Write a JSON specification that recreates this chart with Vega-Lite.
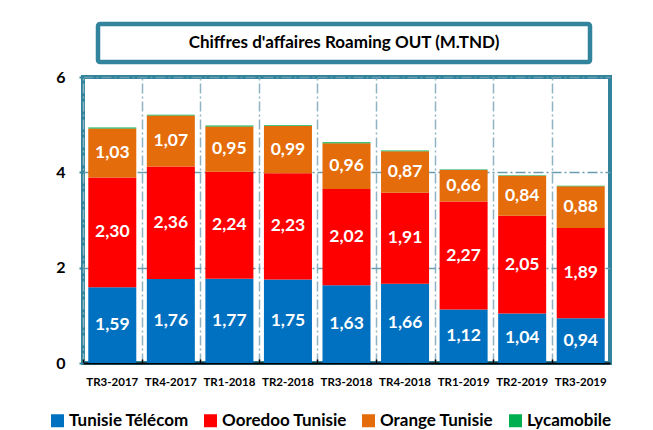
{
  "$schema": "https://vega.github.io/schema/vega-lite/v6.json",
  "padding": {"left": 49, "top": 21, "right": 5, "bottom": 0},
  "background": "white",
  "config": {
    "locale": {"number": {"decimal": ",", "thousands": " ", "grouping": [3], "currency": ["", ""]}},
    "font": "Lato",
    "view": {"stroke": null}
  },
  "spacing": 2,
  "vconcat": [
    {
      "spacing": 0,
      "hconcat": [
        {"width": 12, "height": 38, "data": {"values": [{}]}, "mark": {"type": "text", "text": ""}},
        {
          "width": 492, "height": 38,
          "view": {"stroke": "#31849B", "strokeWidth": 4.5, "cornerRadius": 2},
          "data": {"values": [{"t": "Chiffres d'affaires Roaming OUT (M.TND)"}]},
          "mark": {"type": "text", "fontSize": 17, "fontWeight": "bold", "color": "black"},
          "encoding": {"text": {"field": "t"}}
        }
      ]
    },
    {
      "width": 527, "height": 286,
      "view": {"stroke": "#31849B", "strokeWidth": 4},
      "data": {"values": [
        {"q": "TR3-2017", "Tunisie Télécom": 1.59, "Ooredoo Tunisie": 2.30, "Orange Tunisie": 1.03, "Lycamobile": 0.02},
        {"q": "TR4-2017", "Tunisie Télécom": 1.76, "Ooredoo Tunisie": 2.36, "Orange Tunisie": 1.07, "Lycamobile": 0.02},
        {"q": "TR1-2018", "Tunisie Télécom": 1.77, "Ooredoo Tunisie": 2.24, "Orange Tunisie": 0.95, "Lycamobile": 0.02},
        {"q": "TR2-2018", "Tunisie Télécom": 1.75, "Ooredoo Tunisie": 2.23, "Orange Tunisie": 0.99, "Lycamobile": 0.02},
        {"q": "TR3-2018", "Tunisie Télécom": 1.63, "Ooredoo Tunisie": 2.02, "Orange Tunisie": 0.96, "Lycamobile": 0.02},
        {"q": "TR4-2018", "Tunisie Télécom": 1.66, "Ooredoo Tunisie": 1.91, "Orange Tunisie": 0.87, "Lycamobile": 0.02},
        {"q": "TR1-2019", "Tunisie Télécom": 1.12, "Ooredoo Tunisie": 2.27, "Orange Tunisie": 0.66, "Lycamobile": 0.01},
        {"q": "TR2-2019", "Tunisie Télécom": 1.04, "Ooredoo Tunisie": 2.05, "Orange Tunisie": 0.84, "Lycamobile": 0.01},
        {"q": "TR3-2019", "Tunisie Télécom": 0.94, "Ooredoo Tunisie": 1.89, "Orange Tunisie": 0.88, "Lycamobile": 0.01}
      ]},
      "transform": [
        {"fold": ["Tunisie Télécom", "Ooredoo Tunisie", "Orange Tunisie", "Lycamobile"], "as": ["op", "v"]},
        {"calculate": "indexof(['Tunisie Télécom','Ooredoo Tunisie','Orange Tunisie','Lycamobile'], datum.op)", "as": "k"},
        {"stack": "v", "groupby": ["q"], "sort": [{"field": "k", "order": "ascending"}], "as": ["v0", "v1"]},
        {"calculate": "(datum.v0 + datum.v1) / 2", "as": "vm"}
      ],
      "layer": [
        {
          "mark": {"type": "bar"},
          "encoding": {
            "x": {"field": "q", "type": "ordinal", "sort": null,
              "scale": {"paddingInner": 0.18, "paddingOuter": 0.09},
              "axis": {"title": null, "labelAngle": 0, "labelFontSize": 11.5, "labelFontWeight": "bold", "labelColor": "black",
                "labelPadding": 13, "ticks": false, "grid": false, "domain": true, "domainColor": "black", "domainWidth": 2}},
            "y": {"field": "v0", "type": "quantitative", "scale": {"domain": [0, 6], "nice": false},
              "axis": {"title": null, "values": [0, 2, 4, 6], "grid": true, "gridDash": [10, 3, 2, 3], "gridColor": "#6A9BAE", "gridWidth": 1.5,
                "domain": false, "ticks": true, "tickColor": "#31849B", "tickSize": 4, "tickWidth": 2,
                "labelFontSize": 16, "labelFontWeight": "bold", "labelColor": "black", "labelPadding": 14}},
            "y2": {"field": "v1"},
            "color": {"field": "op", "type": "nominal",
              "scale": {"domain": ["Tunisie Télécom", "Ooredoo Tunisie", "Orange Tunisie", "Lycamobile"],
                        "range": ["#0070C0", "#FF0000", "#E46C0A", "#00B050"]},
              "legend": {"orient": "none", "legendX": -34, "legendY": 388, "direction": "horizontal", "title": null,
                "symbolType": "square", "symbolSize": 169, "symbolStrokeWidth": 0, "labelFontSize": 17, "labelFontWeight": "bold",
                "labelColor": "black", "columnPadding": 13, "labelOffset": 3, "padding": 0}}
          }
        },
        {
          "transform": [{"filter": "datum.op !== 'Lycamobile'"}],
          "mark": {"type": "text", "color": "white", "fontWeight": "bold", "fontSize": 17.5},
          "encoding": {
            "x": {"field": "q", "type": "ordinal", "sort": null, "axis": null},
            "y": {"field": "vm", "type": "quantitative"},
            "text": {"field": "v", "type": "quantitative", "format": ".2f"}
          }
        },
        {
          "mark": {"type": "tick", "opacity": 0},
          "encoding": {
            "x": {"field": "q", "type": "ordinal", "sort": null,
              "axis": {"orient": "bottom", "title": null, "labels": false, "domain": false, "grid": true, "bandPosition": 0, "tickOffset": -5,
                "gridDash": [10, 3, 2, 3], "gridColor": "#8FB3C1", "gridWidth": 1.5, "ticks": true, "tickColor": "black", "tickSize": -4, "tickWidth": 1.5}}
          }
        }
      ],
      "resolve": {"axis": {"x": "independent"}}
    }
  ]
}
